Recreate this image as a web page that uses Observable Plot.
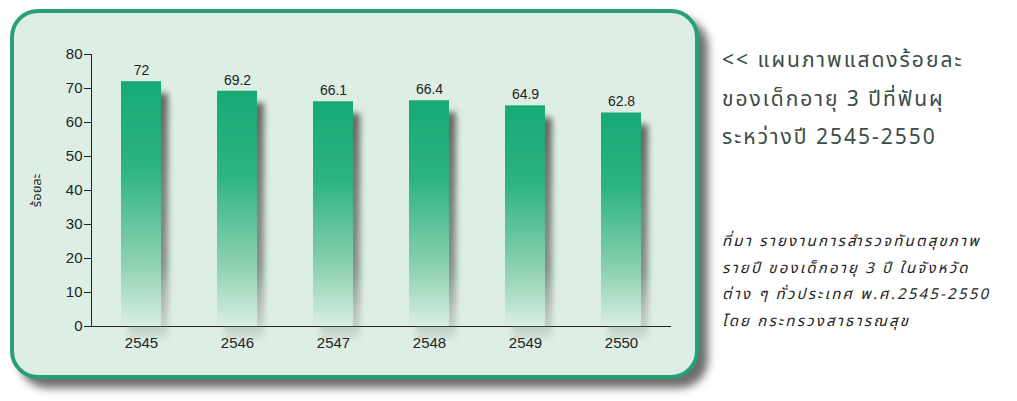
<!DOCTYPE html>
<html>
<head>
<meta charset="utf-8">
<script src="https://cdn.jsdelivr.net/npm/d3@7"></script>
<script src="https://cdn.jsdelivr.net/npm/@observablehq/plot@0.6"></script>
<style>
  html, body { margin: 0; padding: 0; background: #ffffff; }
  #wrap { position: relative; width: 1017px; height: 401px; overflow: hidden; background: #fff; }
  #panel { position: absolute; left: 10px; top: 9px; width: 681px; height: 362px;
    border: 4px solid #27a078; border-radius: 28px; background: #ddefe4;
    box-shadow: 9px 9px 9px rgba(60,60,60,0.75); }
  #chart { position: absolute; left: 0; top: 0; }
  .title { position: absolute; left: 722px; top: 42px; font-family: "Noto Sans Thai", "Tahoma", "Loma", sans-serif;
    font-size: 21px; letter-spacing: 2px; line-height: 38.5px; color: #3d4b45; white-space: nowrap; }
  .source { position: absolute; left: 722px; top: 229px; font-family: "Noto Sans Thai", "Tahoma", "Loma", sans-serif;
    font-size: 15px; letter-spacing: 2.2px; line-height: 26.5px; font-style: italic; color: #222; white-space: nowrap; }
</style>
</head>
<body>
<div id="wrap">
  <div id="panel"></div>
  <div id="chart"></div>
  <div class="title" id="title"></div>
  <div class="source" id="source"></div>
</div>
<script>
const years = ["2545", "2546", "2547", "2548", "2549", "2550"];
const values = [72, 69.2, 66.1, 66.4, 64.9, 62.8];
const yTicks = [0, 10, 20, 30, 40, 50, 60, 70, 80];
const yLabel = "ร้อยละ";
const titleLines = ["<< แผนภาพแสดงร้อยละ", "ของเด็กอายุ 3 ปีที่ฟันผุ", "ระหว่างปี 2545-2550"];
const sourceLines = ["ที่มา รายงานการสำรวจทันตสุขภาพ", "รายปี ของเด็กอายุ 3 ปี ในจังหวัด", "ต่าง ๆ ทั่วประเทศ พ.ศ.2545-2550", "โดย กระทรวงสาธารณสุข"];

const data = years.map((y, i) => ({year: y, value: values[i]}));

const chart = Plot.plot({
  width: 1017,
  height: 401,
  marginLeft: 91,
  marginRight: 347,
  marginTop: 54,
  marginBottom: 75,
  style: {background: "transparent", fontFamily: "'Liberation Sans', Arial, sans-serif", fontSize: "15px", color: "#222"},
  x: {domain: years, paddingInner: 0.585, paddingOuter: 0.2925, tickSize: 0, tickPadding: 11, label: null, line: true},
  y: {domain: [0, 80], ticks: yTicks, tickSize: 7, tickPadding: 2, line: true, label: yLabel, labelAnchor: "center", labelOffset: 57},
  marks: [
    Plot.barY(data, {x: "year", y: "value", fill: "url(#shadowGrad)", dx: 7, dy: 12, ariaDescription: "shadow"}),
    Plot.barY(data, {x: "year", y: "value", fill: "url(#barGrad)"}),
    Plot.text(data, {x: "year", y: "value", text: d => String(d.value), dy: -11, fontSize: 14, fill: "#222"})
  ]
});

const svg = d3.select(chart);
const defs = svg.insert("defs", ":first-child");
const g1 = defs.append("linearGradient").attr("id", "barGrad").attr("x1", 0).attr("y1", 0).attr("x2", 0).attr("y2", 1);
g1.append("stop").attr("offset", "0%").attr("stop-color", "#17a976");
g1.append("stop").attr("offset", "35%").attr("stop-color", "#2cb382");
g1.append("stop").attr("offset", "75%").attr("stop-color", "#8fd2b2");
g1.append("stop").attr("offset", "100%").attr("stop-color", "#d8eee3");
const g2 = defs.append("linearGradient").attr("id", "shadowGrad").attr("x1", 0).attr("y1", 0).attr("x2", 0).attr("y2", 1);
g2.append("stop").attr("offset", "0%").attr("stop-color", "#555").attr("stop-opacity", 0.9);
g2.append("stop").attr("offset", "70%").attr("stop-color", "#666").attr("stop-opacity", 0.7);
g2.append("stop").attr("offset", "100%").attr("stop-color", "#888").attr("stop-opacity", 0.2);
const f = defs.append("filter").attr("id", "blur").attr("x", "-50%").attr("y", "-10%").attr("width", "200%").attr("height", "120%");
f.append("feGaussianBlur").attr("stdDeviation", 3);
svg.selectAll("g[aria-description=shadow]").attr("filter", "url(#blur)");
// strip the automatic arrow from the y-axis label and style it
svg.selectAll("[aria-label='y-axis label'] text").each(function() {
  this.textContent = yLabel;
}).style("font-family", "'Noto Sans Thai', Tahoma, sans-serif").style("font-size", "13px").attr("dy", "-0.2em");
svg.selectAll("[aria-label='y-axis label']").each(function() {
  if (this.tagName === "text") this.textContent = yLabel;
});

document.getElementById("chart").appendChild(chart);
document.getElementById("title").innerHTML = titleLines.map(t => t.replace(/</g, "&lt;")).join("<br>");
document.getElementById("source").innerHTML = sourceLines.join("<br>");
</script>
</body>
</html>
